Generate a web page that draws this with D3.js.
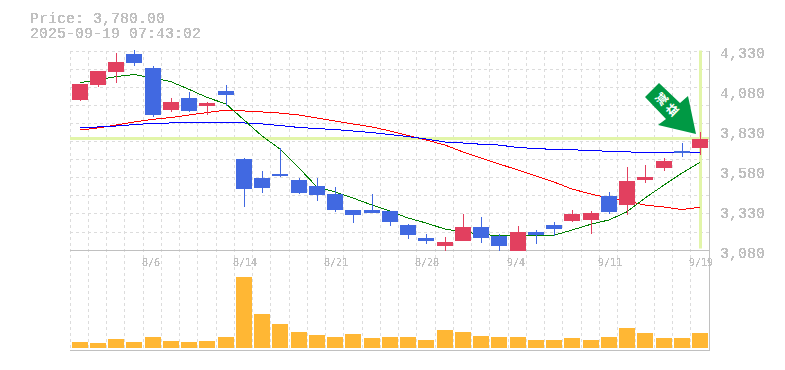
<!DOCTYPE html>
<html>
<head>
<meta charset="utf-8">
<script src="https://cdn.jsdelivr.net/npm/d3@7"></script>
<style>
  html, body { margin: 0; padding: 0; background: #fff; }
  svg { display: block; }
  .label { font-family: "Liberation Mono", monospace; fill: #c0c0c0; filter: url(#aliased); }
  .small { font-family: "DejaVu Sans Mono", monospace; font-size: 10px; }
</style>
</head>
<body>
<div id="chart"></div>
<script>
const dates = ["7/31","8/1","8/4","8/5","8/6","8/7","8/8","8/12","8/13","8/14","8/15","8/18","8/19","8/20","8/21","8/22","8/25","8/26","8/27","8/28","8/29","9/1","9/2","9/3","9/4","9/5","9/8","9/9","9/10","9/11","9/12","9/16","9/17","9/18","9/19"];
const opens = [4021,4114,4195,4308,4220,3958,4033,3983,4077,3652,3533,3558,3520,3483,3433,3333,3333,3327,3239,3158,3108,3139,3227,3171,3077,3196,3239,3264,3271,3421,3364,3520,3596,3702,3720];
const highs = [4121,4202,4314,4333,4233,4033,4071,4008,4114,3658,3577,3720,3533,3533,3477,3333,3433,3327,3246,3183,3164,3308,3289,3183,3233,3208,3258,3333,3327,3446,3602,3614,3658,3752,3820];
const lows = [4014,4102,4127,4233,3914,3946,3946,3927,3983,3352,3439,3539,3433,3389,3321,3252,3314,3233,3152,3121,3077,3139,3127,3077,3077,3121,3171,3258,3183,3308,3302,3502,3577,3664,3677];
const closes = [4121,4202,4258,4252,3927,4008,3952,4002,4052,3464,3471,3545,3439,3427,3333,3302,3314,3258,3177,3139,3133,3227,3158,3108,3196,3177,3214,3308,3314,3321,3514,3539,3639,3689,3780];
const volumes = [6,5,9,6,11,7,6,7,11,71,34,24,16,13,11,14,10,11,11,8,18,16,12,11,11,8,8,10,8,11,20,15,10,10,15];
const maShort = [4129,4146,4167,4180,4158,4135,4087,4037,3996,3896,3796,3714,3596,3477,3446,3408,3364,3327,3283,3252,3214,3196,3183,3171,3171,3175,3175,3208,3244,3271,3322,3408,3489,3564,3631];
const maMid = [3833,3846,3864,3883,3900,3911,3927,3942,3958,3952,3946,3939,3927,3908,3889,3871,3852,3827,3799,3771,3739,3696,3658,3621,3583,3546,3508,3464,3433,3408,3389,3364,3352,3336,3350];
const maLong = [3849,3852,3858,3867,3875,3877,3877,3878,3880,3877,3871,3861,3849,3842,3836,3827,3817,3805,3792,3777,3758,3752,3744,3739,3724,3717,3712,3709,3706,3699,3696,3694,3692,3692,3691];
const priceTicks = [4330,4080,3830,3580,3330,3080];
const dateTicks = ["8/6","8/14","8/21","8/28","9/4","9/11","9/19"];
const lastPrice = 3780;
const titleLines = ["Price: 3,780.00","2025-09-19 07:43:02"];
const badgeText = ["減","益"];

const width = 785, height = 370;
const left = 70, right = 709, priceTop = 50.5, priceBottom = 250.5, volBottom = 348;

const svg = d3.select("#chart").append("svg")
    .attr("width", width)
    .attr("height", height);

// the original text has no antialiasing, so threshold the alpha
svg.append("defs").append("filter")
    .attr("id", "aliased")
    .attr("color-interpolation-filters", "sRGB")
    .append("feComponentTransfer")
    .append("feFuncA")
    .attr("type", "discrete")
    .attr("tableValues", "0 1 1");

const x = d3.scaleBand().domain(dates).range([left, right]);
const center = d => Math.floor(x(d)) + 10;
const y = d3.scaleLinear().domain([3080, 4330]).range([priceBottom, priceTop]);
const yVol = d3.scaleLinear().domain([0, 100]).range([volBottom, volBottom - 100]);

// grid
const grid = svg.append("g")
    .attr("stroke", "#dcdcdc")
    .attr("stroke-dasharray", "3,3")
    .attr("shape-rendering", "crispEdges");
grid.selectAll("line.v")
    .data(dates)
    .enter().append("line")
    .attr("x1", d => Math.floor(x(d)) + 0.5)
    .attr("x2", d => Math.floor(x(d)) + 0.5)
    .attr("y1", priceTop)
    .attr("y2", volBottom + 2);
grid.selectAll("line.h")
    .data(d3.range(0, 11))
    .enter().append("line")
    .attr("x1", left)
    .attr("x2", right)
    .attr("y1", d => Math.round(priceTop + d * 18.1) + 0.5)
    .attr("y2", d => Math.round(priceTop + d * 18.1) + 0.5);

// frame
const frame = svg.append("g")
    .attr("stroke", "#c0c0c0")
    .attr("stroke-width", 1.5)
    .attr("shape-rendering", "crispEdges");
frame.append("line").attr("x1", left).attr("x2", right + 1).attr("y1", 250.5).attr("y2", 250.5);
frame.append("line").attr("x1", left).attr("x2", right + 1).attr("y1", 350.5).attr("y2", 350.5);
frame.append("line").attr("x1", right + 0.5).attr("x2", right + 0.5).attr("y1", priceTop).attr("y2", 351);

// last price cross
svg.append("rect")
    .attr("x", left).attr("width", right - left)
    .attr("y", Math.floor(y(lastPrice)) - 1).attr("height", 3)
    .attr("fill", "#e2f5a9");
svg.append("rect")
    .attr("x", center(dates[34]) - 1).attr("width", 3)
    .attr("y", priceTop).attr("height", 198)
    .attr("fill", "#e2f5a9");

// moving averages
const maLine = d3.line().x((d, i) => center(dates[i])).y(d => y(d));
[[maMid, "#ff0000"], [maLong, "#0000ff"], [maShort, "#008000"]].forEach(([values, color]) => {
    svg.append("path")
        .attr("d", maLine(values))
        .attr("fill", "none")
        .attr("stroke", color)
        .attr("shape-rendering", "crispEdges");
});

// candles
const candleColor = i => closes[i] >= opens[i] ? "#e2405f" : "#4169e1";
const candles = svg.append("g").attr("shape-rendering", "crispEdges");
dates.forEach((d, i) => {
    candles.append("rect")
        .attr("x", center(d))
        .attr("width", 1)
        .attr("y", y(highs[i]))
        .attr("height", y(lows[i]) - y(highs[i]))
        .attr("fill", candleColor(i));
    candles.append("rect")
        .attr("x", center(d) - 8)
        .attr("width", 16)
        .attr("y", y(Math.max(opens[i], closes[i])))
        .attr("height", Math.abs(y(opens[i]) - y(closes[i])))
        .attr("fill", candleColor(i));
});

// volume
svg.append("g").selectAll("rect")
    .data(volumes)
    .enter().append("rect")
    .attr("x", (d, i) => center(dates[i]) - 8)
    .attr("width", 16)
    .attr("y", d => yVol(d))
    .attr("height", d => volBottom - yVol(d))
    .attr("fill", "#ffb734");

// labels
svg.append("g").selectAll("text")
    .data(titleLines)
    .enter().append("text")
    .attr("class", "label")
    .attr("x", 30)
    .attr("y", (d, i) => 23 + i * 15)
    .style("font-size", "15px")
    .text(d => d);
svg.append("g").selectAll("text")
    .data(priceTicks)
    .enter().append("text")
    .attr("class", "label")
    .attr("x", 720)
    .attr("y", (d, i) => 58 + i * 40)
    .style("font-size", "15px")
    .text(d => d3.format(",")(d));
svg.append("g").selectAll("text")
    .data(dateTicks)
    .enter().append("text")
    .attr("class", "label small")
    .attr("x", d => center(d) - 11)
    .attr("y", 266)
    .text(d => d);

// arrow badge
const arrow = [[659,83],[645,97],[666,119],[658,125],[696,134],[688,96],[680,103]];
svg.append("polygon")
    .attr("points", arrow.join(" "))
    .attr("fill", "#009944");
svg.append("g").selectAll("text")
    .data(badgeText)
    .enter().append("text")
    .attr("transform", (d, i) => `translate(${661.5 + i * 10.5},${99 + i * 10.5}) rotate(-45)`)
    .attr("text-anchor", "middle")
    .attr("dy", "0.38em")
    .attr("fill", "#fff")
    .style("font-family", "'Noto Sans CJK JP'")
    .style("font-size", "12px")
    .style("font-weight", "bold")
    .text(d => d);
</script>
</body>
</html>
